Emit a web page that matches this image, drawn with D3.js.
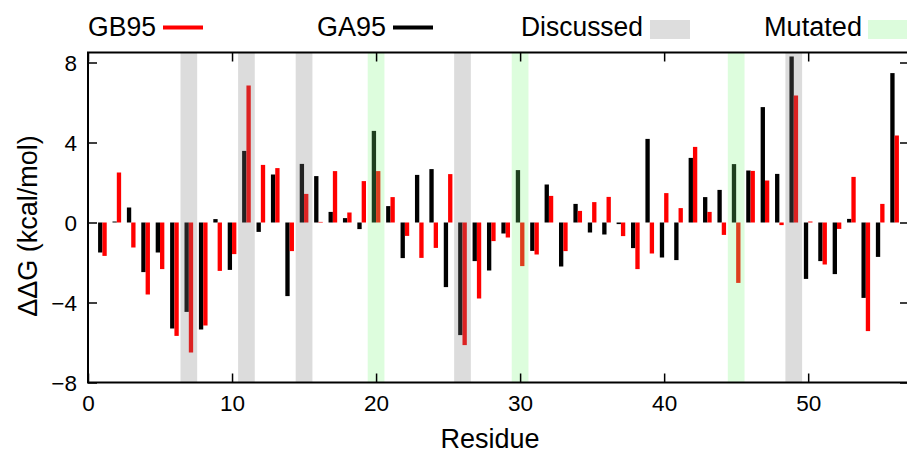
<!DOCTYPE html>
<html>
<head>
<meta charset="utf-8">
<script src="https://cdn.jsdelivr.net/npm/d3@7"></script>
<style>
  body { margin: 0; background: #fff; }
  svg { display: block; font-family: "Liberation Sans", Arial, sans-serif; }
</style>
</head>
<body>
<svg id="chart" width="907" height="456"></svg>
<script>
// GA95 (schwarz) und GB95 (rot), Residue 1..56 in Reihenfolge
const ga95 = [-1.5, 0.05, 0.75, -2.48, -1.5, -5.3, -4.47, -5.35, 0.17, -2.37,
  3.58, -0.47, 2.4, -3.68, 2.93, 2.32, 0.53, 0.22, -0.33, 4.58,
  0.82, -1.78, 2.38, 2.67, -3.23, -5.63, -1.93, -2.4, -0.55, 2.62,
  -1.42, 1.9, -2.2, 0.93, -0.5, -0.6, -0.08, -1.28, 4.18, -1.75,
  -1.88, 3.23, 1.27, 1.63, 2.92, 2.6, 5.77, 2.43, 8.3, -2.82,
  -1.93, -2.58, 0.18, -3.77, -1.72, 7.47];
const gb95 = [-1.67, 2.5, -1.25, -3.6, -2.33, -5.67, -6.5, -5.15, -2.42, -1.58,
  6.85, 2.88, 2.72, -1.43, 1.43, 0.03, 2.57, 0.5, 2.07, 2.57,
  1.27, -0.67, -1.77, -1.27, 2.42, -6.13, -3.8, -0.93, -0.75, -2.18,
  -1.6, 1.33, -1.43, 0.58, 1.02, 1.28, -0.68, -2.33, -1.55, 1.47,
  0.72, 3.78, 0.53, -0.62, -3.02, 2.58, 2.1, -0.13, 6.35, 0.05,
  -2.1, -0.32, 2.28, -5.43, 0.93, 4.35];

// markierte Residuen
const discussed = [7, 11, 15, 26, 49];
const mutated = [20, 30, 45];

const xTicks = [0, 10, 20, 30, 40, 50];
const yTicks = [-8, -4, 0, 4, 8];

const svg = d3.select("#chart");

const x = d3.scaleLinear().domain([0, 57]).range([88, 909]);
const y = d3.scaleLinear().domain([-8, 8.5]).range([382.5, 52.5]);

const barW = 0.3; // Breite in Residue-Einheiten
const bandHalf = 0.58;

// Balken GA95 (links) und GB95 (rechts)
svg.append("g").selectAll("rect")
  .data(ga95)
  .join("rect")
  .attr("x", (d, i) => x(i + 1 - barW))
  .attr("width", x(barW) - x(0))
  .attr("y", d => y(Math.max(0, d)))
  .attr("height", d => Math.abs(y(d) - y(0)))
  .attr("fill", "#000");

svg.append("g").selectAll("rect")
  .data(gb95)
  .join("rect")
  .attr("x", (d, i) => x(i + 1))
  .attr("width", x(barW) - x(0))
  .attr("y", d => y(Math.max(0, d)))
  .attr("height", d => Math.abs(y(d) - y(0)))
  .attr("fill", "#ff0000");

// halbtransparente Bänder über den Balken
svg.append("g").selectAll("rect")
  .data(discussed)
  .join("rect")
  .attr("x", d => x(d - bandHalf))
  .attr("width", x(2 * bandHalf) - x(0))
  .attr("y", y(8.5))
  .attr("height", y(-8) - y(8.5))
  .attr("fill", "rgb(126,126,126)")
  .attr("fill-opacity", 0.27);

svg.append("g").selectAll("rect")
  .data(mutated)
  .join("rect")
  .attr("x", d => x(d - bandHalf))
  .attr("width", x(2 * bandHalf) - x(0))
  .attr("y", y(8.5))
  .attr("height", y(-8) - y(8.5))
  .attr("fill", "rgb(120,246,120)")
  .attr("fill-opacity", 0.25);

// Achsen mit nach innen zeigenden Ticks
const tickLen = 9;
const axisBottom = svg.append("g")
  .attr("transform", `translate(0,${y(-8)})`)
  .call(d3.axisBottom(x).tickValues(xTicks).tickSize(-tickLen).tickPadding(tickLen + 3));
const axisTop = svg.append("g")
  .attr("transform", `translate(0,${y(8.5)})`)
  .call(d3.axisTop(x).tickValues(xTicks).tickSize(-tickLen).tickFormat(""));
const axisLeft = svg.append("g")
  .attr("transform", `translate(${x(0)},0)`)
  .call(d3.axisLeft(y).tickValues(yTicks).tickSize(-tickLen).tickPadding(tickLen + 2));
const axisRight = svg.append("g")
  .attr("transform", `translate(${x(57)},0)`)
  .call(d3.axisRight(y).tickValues(yTicks).tickSize(-tickLen).tickFormat(""));

[axisBottom, axisTop, axisLeft, axisRight].forEach(a => {
  a.select(".domain").remove();
  a.selectAll(".tick line").attr("stroke", "#000").attr("stroke-width", 1.5);
  a.selectAll(".tick text")
    .attr("fill", "#000")
    .style("font-size", "22.5px")
    .style("font-family", "Liberation Sans, Arial, sans-serif");
});
axisBottom.selectAll(".tick text").attr("dy", "0.72em");
axisLeft.selectAll(".tick text").attr("dy", "0.36em");

// Rahmen
svg.append("rect")
  .attr("x", x(0))
  .attr("y", y(8.5))
  .attr("width", x(57) - x(0))
  .attr("height", y(-8) - y(8.5))
  .attr("fill", "none")
  .attr("stroke", "#000")
  .attr("stroke-width", 2);

// Achsentitel
svg.append("text")
  .attr("x", 490)
  .attr("y", 448)
  .attr("text-anchor", "middle")
  .style("font-size", "27px")
  .text("Residue");

svg.append("text")
  .attr("transform", "translate(37,226) rotate(-90)")
  .attr("text-anchor", "middle")
  .style("font-size", "27px")
  .text("ΔΔG (kcal/mol)");

// Legende
const legend = svg.append("g").style("font-size", "27px");
const legendItems = [
  { label: "GB95", tx: 88, tw: 68, kind: "line", color: "#ff0000", sx: 163 },
  { label: "GA95", tx: 317, tw: 69, kind: "line", color: "#000", sx: 393 },
  { label: "Discussed", tx: 521, tw: 122, kind: "box", color: "#dddddd", sx: 650 },
  { label: "Mutated", tx: 764, tw: 98, kind: "box", color: "#dcfcdc", sx: 868 }
];
legendItems.forEach(it => {
  legend.append("text")
    .attr("x", it.tx)
    .attr("y", 36)
    .attr("textLength", it.tw)
    .attr("lengthAdjust", "spacingAndGlyphs")
    .text(it.label);
  if (it.kind === "line") {
    legend.append("line")
      .attr("x1", it.sx).attr("x2", it.sx + 40)
      .attr("y1", 27.5).attr("y2", 27.5)
      .attr("stroke", it.color)
      .attr("stroke-width", 4);
  } else {
    legend.append("rect")
      .attr("x", it.sx).attr("y", 20)
      .attr("width", 40).attr("height", 19)
      .attr("fill", it.color);
  }
});
</script>
</body>
</html>
